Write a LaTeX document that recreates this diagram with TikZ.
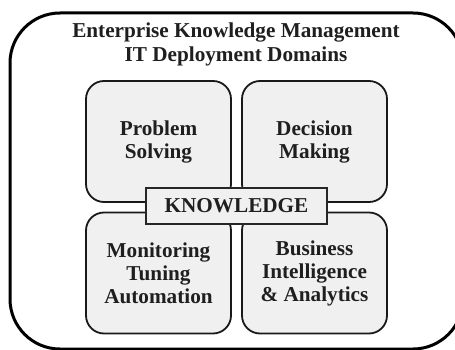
\documentclass[tikz,border=0pt]{standalone}
\usepackage{fontspec}
\setmainfont{Liberation Serif}
\definecolor{boxgray}{HTML}{F0F0F0}
\begin{document}
\begin{tikzpicture}[x=1pt,y=-1pt,
  domainbox/.style={draw=black!90, line width=1.8pt, fill=boxgray, rounded corners=18pt,
    minimum width=145pt, minimum height=121pt, inner sep=0pt, align=center,
    font=\fontsize{21.2}{23}\selectfont\bfseries, text=black!88},
  corebox/.style={draw=black!85, line width=1.1pt, fill=boxgray,
    minimum width=181pt, minimum height=36pt, inner sep=0pt,
    font=\fontsize{21.2}{23}\selectfont\bfseries, text=black!88},
  titletext/.style={inner sep=0pt, align=center,
    font=\fontsize{21.2}{24}\selectfont\bfseries, text=black!88}]
\useasboundingbox (0,0) rectangle (455,350);
\begin{scope}
\clip (0,0) rectangle (455,350);
\draw[line width=3pt, rounded corners=50pt] (10,13) rectangle (463,349);
\end{scope}
\node[titletext, anchor=north] (title) at (236,22.5) {Enterprise Knowledge Management\\IT Deployment Domains};
\node[domainbox] (ps) at (158.5,141.5) {Problem\\Solving};
\node[domainbox] (dm) at (314.5,141.5) {Decision\\Making};
\node[domainbox] (mta) at (158.5,273) {Monitoring\\Tuning\\Automation};
\node[domainbox] (bia) at (314.5,273) {Business\\Intelligence\\\& Analytics};
\node[corebox] (know) at (236.5,206) {KNOWLEDGE};
\end{tikzpicture}
\end{document}
